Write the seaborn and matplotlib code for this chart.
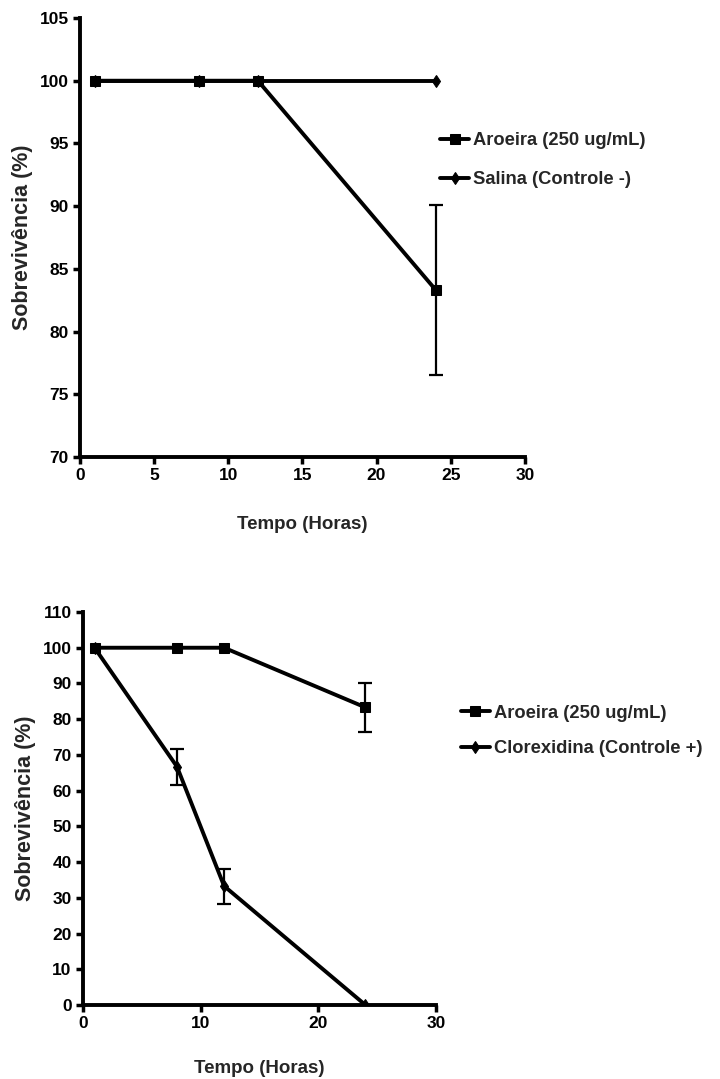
import numpy as np
import pandas as pd
import seaborn as sns
from matplotlib import pyplot as plt
from matplotlib import font_manager

# time points (hours)
tempo = [1, 8, 12, 24]

# top panel
aroeira = [100, 100, 100, 83.3]
aroeira_err = [0, 0, 0, 6.8]
salina = [100, 100, 100, 100]

# bottom panel
clorex = [100, 66.7, 33.3, 0]
clorex_err = [0, 5.0, 4.9, 0]

lbl_aroeira = 'Aroeira (250 ug/mL)'
lbl_salina = 'Salina (Controle -)'
lbl_clorex = 'Clorexidina (Controle +)'

sns.set_style('ticks')

# condensed font for ticks / legend if available
names = {f.name for f in font_manager.fontManager.ttflist}
narrow = 'Liberation Sans Narrow' if 'Liberation Sans Narrow' in names else 'Liberation Sans'
plt.rcParams['font.family'] = [narrow, 'DejaVu Sans']


def style_axes(ax, xlim, ylim, yticks, xticks, xpad):
    ax.set_xlim(*xlim)
    ax.set_ylim(*ylim)
    ax.set_yticks(yticks)
    ax.set_xticks(xticks)
    for s in ['top', 'right']:
        ax.spines[s].set_visible(False)
    for s in ['left', 'bottom']:
        ax.spines[s].set_linewidth(2.8)
        ax.spines[s].set_color('black')
    ax.tick_params(width=2.5, length=5, labelsize=12.5, colors='black', pad=3)
    for t in ax.get_xticklabels() + ax.get_yticklabels():
        t.set_fontweight('bold')
    ax.set_xlabel('Tempo (Horas)', fontsize=13.5, fontweight='bold', labelpad=xpad)
    ax.set_ylabel('Sobrevivência (%)', fontsize=15.5, fontweight='bold',
                  family=['Liberation Sans', 'DejaVu Sans'], labelpad=5)


def draw_series(ax, y, err, marker, ms, label):
    df = pd.DataFrame({'tempo': tempo, 'valor': y})
    sns.lineplot(data=df, x='tempo', y='valor', ax=ax, color='black', linewidth=2.8,
                 marker=marker, markersize=ms, markeredgecolor='black', label=label)
    if err is not None and any(e > 0 for e in err):
        sel = [i for i, e in enumerate(err) if e > 0]
        ax.errorbar([tempo[i] for i in sel], [y[i] for i in sel], yerr=[err[i] for i in sel],
                    fmt='none', ecolor='black', elinewidth=1.6, capsize=5, capthick=1.6)


fig = plt.figure(figsize=(7.2, 10.79), dpi=100)
leg_prop = {'weight': 'bold', 'size': 13.2}

# top panel
ax1 = fig.add_axes([0.111, 0.5765, 0.618, 0.4068])
draw_series(ax1, salina, None, 'd', 6, lbl_salina)
draw_series(ax1, aroeira, aroeira_err, 's', 7, lbl_aroeira)
style_axes(ax1, (0, 30), (70, 105), np.arange(70, 106, 5), np.arange(0, 31, 5), 24)
h, l = ax1.get_legend_handles_labels()
ax1.legend([h[1], h[0]], [l[1], l[0]], loc='upper left', bbox_to_anchor=(0.588, 0.893),
           bbox_transform=fig.transFigure, frameon=False, handlelength=1.6,
           handletextpad=0.2, labelspacing=1.2, prop=leg_prop)

# bottom panel
ax2 = fig.add_axes([0.115, 0.0686, 0.4906, 0.3642])
draw_series(ax2, aroeira, aroeira_err, 's', 7, lbl_aroeira)
draw_series(ax2, clorex, clorex_err, 'd', 6, lbl_clorex)
style_axes(ax2, (0, 30), (0, 110), np.arange(0, 111, 10), [0, 10, 20, 30], 21)
ax2.legend(loc='upper left', bbox_to_anchor=(0.617, 0.362),
           bbox_transform=fig.transFigure, frameon=False, handlelength=1.6,
           handletextpad=0.2, labelspacing=1.0, prop=leg_prop)

plt.savefig('out.png', dpi=100)
